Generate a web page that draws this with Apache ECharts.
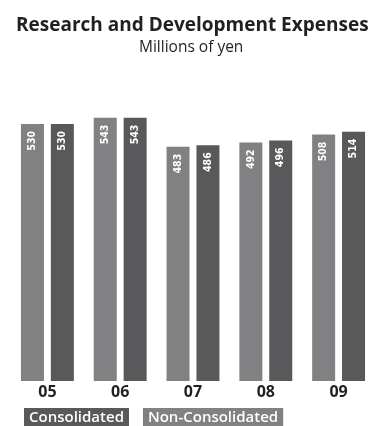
<!DOCTYPE html>
<html>
<head>
<meta charset="utf-8">
<script src="https://cdn.jsdelivr.net/npm/echarts@6/dist/echarts.min.js"></script>
<style>
  html, body { margin: 0; padding: 0; background: #fff; }
  #chart { width: 375px; height: 426px; }
</style>
</head>
<body>
<div id="chart"></div>
<script>
// Fiscal years shown along the axis
const years = ['05', '06', '07', '08', '09'];
// R&D expenses, millions of yen
const nonConsolidated = [530, 543, 483, 492, 508];
const consolidated = [530, 543, 486, 496, 514];

const LIGHT = '#818184';
const DARK = '#59595b';

const valueLabel = {
  show: true,
  position: 'insideTop',
  distance: 7,
  rotate: 90,
  align: 'right',
  verticalAlign: 'middle',
  color: '#ffffff',
  fontFamily: 'DejaVu Sans Condensed',
  fontWeight: 'bold',
  fontSize: 10.5
};

const legendText = (bg) => ({
  backgroundColor: bg,
  color: '#fff',
  padding: [2, 5, 1, 5],
  fontFamily: 'Open Sans',
  fontWeight: 600,
  fontSize: 15,
  lineHeight: 16
});

const chart = echarts.init(document.getElementById('chart'), null, { renderer: 'canvas' });
chart.setOption({
  animation: false,
  backgroundColor: '#ffffff',
  title: [
    {
      text: 'Research and Development Expenses',
      left: 16,
      top: 16,
      padding: 0,
      textStyle: { fontFamily: 'Open Sans', fontWeight: 'bold', fontSize: 19, color: '#231f20' }
    },
    {
      text: 'Millions of yen',
      left: 139,
      top: 40,
      padding: 0,
      textStyle: { fontFamily: 'Open Sans', fontWeight: 'normal', fontSize: 15.5, color: '#231f20' }
    }
  ],
  legend: {
    left: 14,
    top: 403,
    itemWidth: 0,
    itemHeight: 0,
    itemGap: 9,
    selectedMode: false,
    data: [
      { name: 'Consolidated', icon: 'rect', textStyle: legendText(DARK) },
      { name: 'Non-Consolidated', icon: 'rect', textStyle: legendText(LIGHT) }
    ]
  },
  grid: { left: 11, right: 0, top: 90, bottom: 45 },
  xAxis: {
    type: 'category',
    data: years,
    axisLine: { show: false },
    axisTick: { show: false },
    axisLabel: { margin: 3, color: '#231f20', fontFamily: 'Open Sans', fontWeight: 'bold', fontSize: 16 }
  },
  yAxis: {
    type: 'value',
    min: 0,
    max: 600,
    show: false,
    splitLine: { show: false }
  },
  series: [
    {
      name: 'Non-Consolidated',
      type: 'bar',
      data: nonConsolidated,
      barWidth: 23,
      barGap: '30%',
      itemStyle: { color: LIGHT },
      label: valueLabel
    },
    {
      name: 'Consolidated',
      type: 'bar',
      data: consolidated,
      barWidth: 23,
      barGap: '30%',
      itemStyle: { color: DARK },
      label: valueLabel
    }
  ]
});
</script>
</body>
</html>
